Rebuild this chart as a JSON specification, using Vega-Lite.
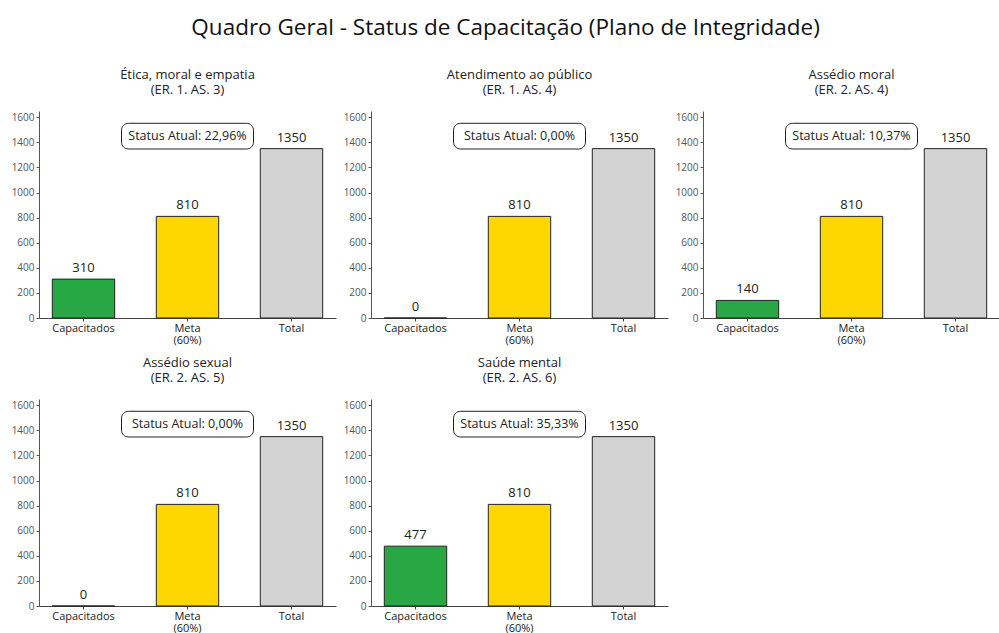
{
  "$schema": "https://vega.github.io/schema/vega-lite/v6.json",
  "padding": {"left": 11, "top": 16, "right": 5, "bottom": 0},
  "background": "white",
  "config": {"view": {"stroke": null}, "font": "Open Sans"},
  "title": {"text": "Quadro Geral - Status de Capacitação (Plano de Integridade)", "fontSize": 22.5, "font": "Open Sans", "fontWeight": "normal", "anchor": "middle", "color": "#111", "offset": 30},
  "data": {"values": [
    {"panel": "Ética, moral e empatia|(ER. 1. AS. 3)", "categoria": "Capacitados", "valor": 310, "status": "22,96%"},
    {"panel": "Ética, moral e empatia|(ER. 1. AS. 3)", "categoria": "Meta", "valor": 810, "status": "22,96%"},
    {"panel": "Ética, moral e empatia|(ER. 1. AS. 3)", "categoria": "Total", "valor": 1350, "status": "22,96%"},
    {"panel": "Atendimento ao público|(ER. 1. AS. 4)", "categoria": "Capacitados", "valor": 0, "status": "0,00%"},
    {"panel": "Atendimento ao público|(ER. 1. AS. 4)", "categoria": "Meta", "valor": 810, "status": "0,00%"},
    {"panel": "Atendimento ao público|(ER. 1. AS. 4)", "categoria": "Total", "valor": 1350, "status": "0,00%"},
    {"panel": "Assédio moral|(ER. 2. AS. 4)", "categoria": "Capacitados", "valor": 140, "status": "10,37%"},
    {"panel": "Assédio moral|(ER. 2. AS. 4)", "categoria": "Meta", "valor": 810, "status": "10,37%"},
    {"panel": "Assédio moral|(ER. 2. AS. 4)", "categoria": "Total", "valor": 1350, "status": "10,37%"},
    {"panel": "Assédio sexual|(ER. 2. AS. 5)", "categoria": "Capacitados", "valor": 0, "status": "0,00%"},
    {"panel": "Assédio sexual|(ER. 2. AS. 5)", "categoria": "Meta", "valor": 810, "status": "0,00%"},
    {"panel": "Assédio sexual|(ER. 2. AS. 5)", "categoria": "Total", "valor": 1350, "status": "0,00%"},
    {"panel": "Saúde mental|(ER. 2. AS. 6)", "categoria": "Capacitados", "valor": 477, "status": "35,33%"},
    {"panel": "Saúde mental|(ER. 2. AS. 6)", "categoria": "Meta", "valor": 810, "status": "35,33%"},
    {"panel": "Saúde mental|(ER. 2. AS. 6)", "categoria": "Total", "valor": 1350, "status": "35,33%"}
  ]},
  "facet": {
    "field": "panel", "type": "nominal",
    "sort": ["Ética, moral e empatia|(ER. 1. AS. 3)", "Atendimento ao público|(ER. 1. AS. 4)", "Assédio moral|(ER. 2. AS. 4)", "Assédio sexual|(ER. 2. AS. 5)", "Saúde mental|(ER. 2. AS. 6)"],
    "header": {"title": null, "labelExpr": "split(datum.value, '|')", "labelFontSize": 13, "labelFont": "Open Sans", "labelColor": "#222", "labelPadding": 14, "labelLineHeight": 15}
  },
  "columns": 3,
  "spacing": {"column": 7, "row": 12},
  "resolve": {"axis": {"x": "independent", "y": "independent"}},
  "spec": {
    "width": 297,
    "height": 207,
    "encoding": {
      "x": {"field": "categoria", "type": "nominal", "sort": ["Capacitados", "Meta", "Total"],
        "scale": {"paddingInner": 0.4, "paddingOuter": 0.128},
        "axis": {"title": null, "labelAngle": 0, "labelFontSize": 11, "labelFont": "Open Sans", "labelColor": "#222", "tickSize": 3, "labelPadding": 1, "domainColor": "#444", "tickColor": "#444",
          "labelExpr": "datum.value == 'Meta' ? ['Meta', '(60%)'] : datum.value", "labelLineHeight": 12}}
    },
    "layer": [
      {
        "mark": {"type": "bar", "stroke": "#222", "strokeWidth": 1},
        "encoding": {
          "y": {"field": "valor", "type": "quantitative", "scale": {"domain": [0, 1650], "nice": false},
            "axis": {"title": null, "grid": false, "values": [0, 200, 400, 600, 800, 1000, 1200, 1400, 1600], "format": "d", "labelOverlap": false, "labelFontSize": 10, "labelFont": "Open Sans", "labelColor": "#555", "tickSize": 3, "domainColor": "#555", "tickColor": "#555", "labelPadding": 2}},
          "color": {"field": "categoria", "type": "nominal", "legend": null,
            "scale": {"domain": ["Capacitados", "Meta", "Total"], "range": ["#28a745", "#ffd700", "#d3d3d3"]}}
        }
      },
      {
        "mark": {"type": "text", "baseline": "bottom", "dy": -4, "fontSize": 13, "font": "Open Sans", "color": "#222"},
        "encoding": {
          "y": {"field": "valor", "type": "quantitative",
            "axis": {"title": null, "grid": false, "values": [0, 200, 400, 600, 800, 1000, 1200, 1400, 1600], "format": "d", "labelOverlap": false, "labelFontSize": 10, "labelFont": "Open Sans", "labelColor": "#555", "tickSize": 3, "domainColor": "#555", "tickColor": "#555", "labelPadding": 2}},
          "text": {"field": "valor", "type": "quantitative"}
        }
      },
      {
        "transform": [{"filter": "datum.categoria == 'Meta'"}],
        "mark": {"type": "bar", "width": 132, "fill": "white", "stroke": "#222", "strokeWidth": 1, "cornerRadius": 7},
        "encoding": {
          "y": {"datum": 1347, "type": "quantitative",
            "axis": {"title": null, "grid": false, "values": [0, 200, 400, 600, 800, 1000, 1200, 1400, 1600], "format": "d", "labelOverlap": false, "labelFontSize": 10, "labelFont": "Open Sans", "labelColor": "#555", "tickSize": 3, "domainColor": "#555", "tickColor": "#555", "labelPadding": 2}},
          "y2": {"datum": 1552}
        }
      },
      {
        "transform": [{"filter": "datum.categoria == 'Meta'"}, {"calculate": "'Status Atual: ' + datum.status", "as": "rotulo"}],
        "mark": {"type": "text", "fontSize": 12.5, "font": "Open Sans", "color": "#222", "baseline": "middle"},
        "encoding": {
          "y": {"datum": 1450, "type": "quantitative",
            "axis": {"title": null, "grid": false, "values": [0, 200, 400, 600, 800, 1000, 1200, 1400, 1600], "format": "d", "labelOverlap": false, "labelFontSize": 10, "labelFont": "Open Sans", "labelColor": "#555", "tickSize": 3, "domainColor": "#555", "tickColor": "#555", "labelPadding": 2}},
          "text": {"field": "rotulo"}
        }
      }
    ]
  }
}
